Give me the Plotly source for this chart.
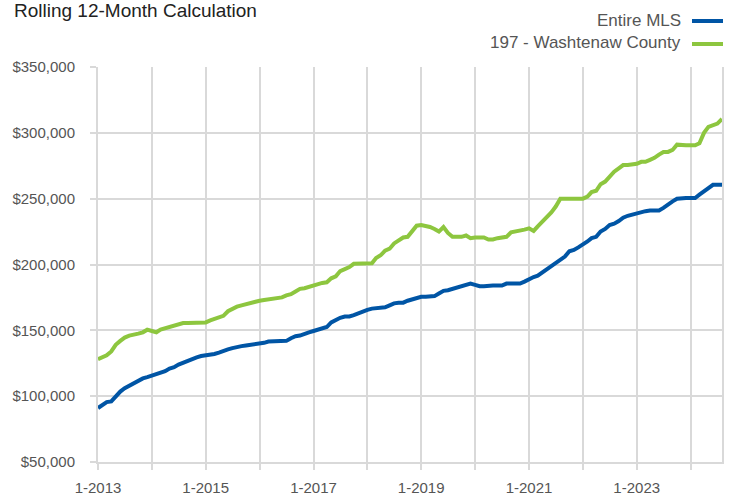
import plotly.graph_objects as go
import pandas as pd

months = pd.date_range("2013-01-01", "2024-08-01", freq="MS")

# Rolling 12-month median sale price, in $ thousands
entire_mls_k = [
    91, 93.5, 95.5, 96, 100, 103.5, 106, 108, 110, 112, 113.5, 114.5,          # 2013
    115.5, 116.5, 118, 119, 121, 122, 124, 125.5, 126.5, 128, 129.5, 130.5,    # 2014
    131, 131, 132, 133, 134.5, 135.5, 136.5, 137.5, 138, 138.5, 139, 139,      # 2015
    139.5, 140.5, 141.5, 141.5, 141.5, 141.5, 142, 144, 145.5, 146, 147.5, 148.5,  # 2016
    149.5, 150.5, 151.5, 152.5, 156, 158, 159.5, 160.5, 160.5, 161.5, 163, 164.5,  # 2017
    165.5, 166.5, 167, 167, 167.5, 169, 170.5, 171, 171, 172.5, 173.5, 174.5,  # 2018
    175.5, 175.5, 175.5, 176, 178, 180, 180.5, 181.5, 183, 184, 185, 185.5,    # 2019
    184.5, 183.5, 183.5, 184, 184, 184, 184, 185.5, 185.5, 185.5, 185.5, 187,  # 2020
    189, 190.5, 191.5, 194, 196.5, 198.5, 200.5, 203.5, 206, 210, 211, 213,    # 2021
    215, 217.5, 220, 221, 225, 227, 230, 231, 233, 235.5, 237, 238,            # 2022
    239, 239.5, 240.5, 241, 241, 241, 243, 246, 248, 250, 250.5, 250.5,        # 2023
    250.5, 250.5, 253, 256, 258, 260.5, 260.5, 260.5,                          # 2024
]

washtenaw_k = [
    128, 129.5, 131, 134, 139, 142, 144.5, 146, 146.5, 147.5, 148.5, 150.5,    # 2013
    149.5, 148.5, 150.5, 151.5, 152.5, 153, 154, 155.5, 155.5, 155.5, 155.5, 155.5,  # 2014
    156, 157.5, 158.5, 159.5, 161, 164.5, 166.5, 168, 169, 170, 171, 172,      # 2015
    172.5, 173, 173.5, 174, 174.5, 175, 176.5, 177.5, 179.5, 181.5, 182, 183,  # 2016
    184.5, 185.5, 186, 186.5, 189.5, 191, 195, 196.5, 198, 200.5, 200.5, 200.5,  # 2017
    201, 201, 205, 207, 210.5, 212, 216, 218, 220.5, 221, 225.5, 229.5,        # 2018
    230, 229.5, 228.5, 227, 225, 228.5, 224, 221, 221, 221, 222, 220,          # 2019
    220.5, 220.5, 220.5, 219, 219, 220, 220.5, 221, 224.5, 225, 226, 226.5,    # 2020
    227.5, 225.5, 229, 232.5, 236, 239.5, 244, 250, 250, 250, 250, 250,        # 2021
    250, 251.5, 255, 256, 261, 263, 267, 270.5, 273, 275.5, 275.5, 276,        # 2022
    276.5, 278, 278, 279.5, 281, 283.5, 285.5, 285.5, 287, 291, 290.5, 290.5,  # 2023
    290.5, 290.5, 292, 300, 304.5, 305.5, 307, 310.5,                          # 2024
]

series_names = ["Entire MLS", "197 - Washtenaw County"]
series_colors = ["#0055a5", "#8dc63f"]

entire_mls = [v * 1000 for v in entire_mls_k]
washtenaw = [v * 1000 for v in washtenaw_k]

FONT = "Liberation Sans, Arial, sans-serif"
GRID = "#d9d9d9"

fig = go.Figure()
fig.add_trace(go.Scatter(x=months, y=washtenaw, mode="lines", name=series_names[1],
                         line=dict(color=series_colors[1], width=4)))
fig.add_trace(go.Scatter(x=months, y=entire_mls, mode="lines", name=series_names[0],
                         line=dict(color=series_colors[0], width=4)))

L, R, T, B = 98, 10, 67, 34
W, H = 732, 496
pw, ph = W - L - R, H - T - B

def px_x(px):
    return (px - L) / pw

def px_y(py):
    return (H - B - py) / ph

fig.update_layout(
    width=W, height=H,
    margin=dict(l=L, r=R, t=T, b=B, autoexpand=False),
    paper_bgcolor="white", plot_bgcolor="white",
    showlegend=False,
    font=dict(family=FONT, color="#555555", size=15),
)

fig.add_annotation(text="Rolling 12-Month Calculation", xref="paper", yref="paper",
                   x=px_x(12), y=px_y(11), xanchor="left", yanchor="middle",
                   showarrow=False, font=dict(family=FONT, size=19, color="#222222"))

fig.update_xaxes(
    type="date",
    range=["2013-01-01", "2024-08-01"],
    tick0="2013-01-01", dtick="M24", tickformat="%-m-%Y",
    showgrid=True, gridcolor=GRID, gridwidth=2,
    ticks="outside", ticklen=6, tickwidth=2, tickcolor=GRID,
    minor=dict(dtick="M12", tick0="2013-01-01", showgrid=True, gridcolor=GRID, gridwidth=2,
               ticks="outside", ticklen=6, tickwidth=2, tickcolor=GRID),
    showline=True, linecolor=GRID, linewidth=2,
    zeroline=False, automargin=False,
    tickfont=dict(size=15, color="#555555"),
    ticklabelstandoff=5,
)
fig.update_yaxes(
    range=[50000, 350000], dtick=50000, tick0=50000,
    tickprefix="$", tickformat=",.0f",
    showgrid=True, gridcolor=GRID, gridwidth=2,
    ticks="outside", ticklen=6, tickwidth=2, tickcolor=GRID,
    showline=True, linecolor=GRID, linewidth=2, mirror=True,
    zeroline=False, automargin=False,
    tickfont=dict(size=15, color="#555555"),
    ticklabelstandoff=12,
)

# Custom legend (text left of line sample, right-aligned)
legend_rows = [(series_names[0], series_colors[0], 20), (series_names[1], series_colors[1], 43)]
for name, color, ypx in legend_rows:
    fig.add_annotation(text=name, xref="paper", yref="paper", x=px_x(683), y=px_y(ypx),
                       xanchor="right", yanchor="middle", showarrow=False,
                       font=dict(family=FONT, size=17, color="#555555"))
    fig.add_shape(type="line", xref="paper", yref="paper",
                  x0=px_x(692), x1=px_x(723), y0=px_y(ypx + 1), y1=px_y(ypx + 1),
                  line=dict(color=color, width=4))

fig.write_html("out.html",
               config={"displayModeBar": False, "staticPlot": True},
               post_script="document.body.style.margin='0';document.body.style.overflow='hidden';")
